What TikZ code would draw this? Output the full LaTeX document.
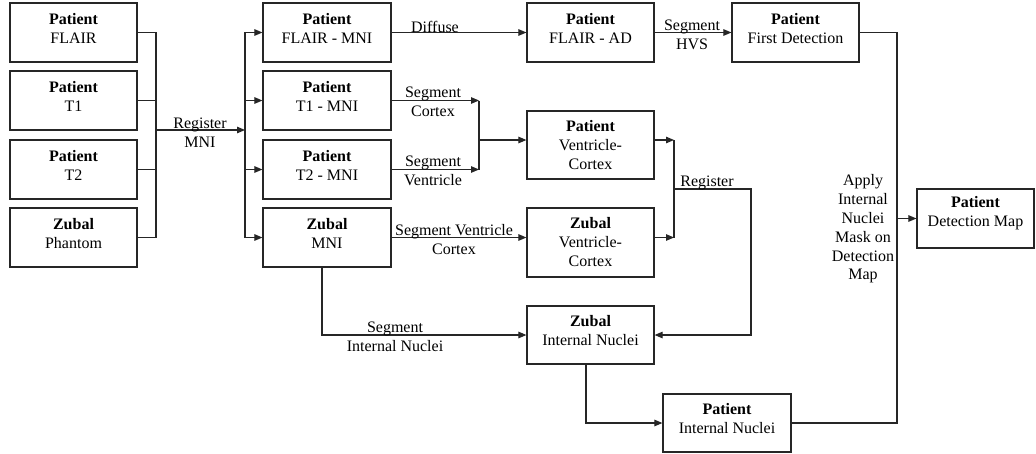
\documentclass[tikz,border=0pt]{standalone}
\usepackage{fontspec}
\setmainfont{Liberation Serif}
\usetikzlibrary{arrows.meta}
\begin{document}
\begin{tikzpicture}[x=1pt,y=-1pt,
  box/.style={draw=black!85, line width=1.2pt, minimum width=127pt, minimum height=59pt, inner sep=0pt},
  txt/.style={align=center, font=\fontsize{16}{19}\selectfont, inner sep=0pt},
  two/.style={txt, yshift=4pt},
  conn/.style={line width=1.1pt, draw=black!85},
  arr/.style={conn, -{Triangle[length=8pt,width=6.5pt]}}]
\fill[white] (0,0) rectangle (1036,453);
\useasboundingbox (0,0) rectangle (1036,453);
% left column
\node[box, label={[two]center:{\textbf{Patient}\\FLAIR}}] (pflair) at (73.5,32.5) {};
\node[box, label={[two]center:{\textbf{Patient}\\T1}}] (pt1) at (73.5,100.5) {};
\node[box, label={[two]center:{\textbf{Patient}\\T2}}] (pt2) at (73.5,169.5) {};
\node[box, label={[two]center:{\textbf{Zubal}\\Phantom}}] (zph) at (73.5,237.5) {};
% MNI column
\node[box, minimum width=128pt, label={[two]center:{\textbf{Patient}\\FLAIR - MNI}}] (pflm) at (327,32.5) {};
\node[box, minimum width=128pt, label={[two]center:{\textbf{Patient}\\T1 - MNI}}] (pt1m) at (327,100.5) {};
\node[box, minimum width=128pt, label={[two]center:{\textbf{Patient}\\T2 - MNI}}] (pt2m) at (327,169.5) {};
\node[box, minimum width=128pt, label={[two]center:{\textbf{Zubal}\\MNI}}] (zmni) at (327,237.5) {};
% third column
\node[box, label={[two]center:{\textbf{Patient}\\FLAIR - AD}}] (pfad) at (590.5,32.5) {};
\node[box, minimum height=68pt, label={[txt]center:{\textbf{Patient}\\Ventricle-\\Cortex}}] (pvc) at (590.5,145) {};
\node[box, minimum height=69pt, label={[txt]center:{\textbf{Zubal}\\Ventricle-\\Cortex}}] (zvc) at (590.5,242.5) {};
\node[box, minimum height=58pt, label={[two]center:{\textbf{Zubal}\\Internal Nuclei}}] (zin) at (590.5,335) {};
% right part
\node[box, label={[two]center:{\textbf{Patient}\\First Detection}}] (pfd) at (795.5,32.5) {};
\node[box, minimum width=128pt, minimum height=58pt, label={[two]center:{\textbf{Patient}\\Internal Nuclei}}] (pin) at (727,423) {};
\node[box, minimum width=117pt, label={[txt,yshift=5pt]center:{\textbf{Patient}\\Detection Map}}] (pdm) at (975.5,218.5) {};
% junction coordinates
\coordinate (j0) at (156,130);
\coordinate (jb) at (245,130);
\coordinate (j1) at (479,140);
\coordinate (j2) at (674,189);
\coordinate (rg) at (751,189);
\coordinate (j3) at (897,218.5);
% register MNI bus
\draw[conn] (pflair.east) -| (j0);
\draw[conn] (pt1.east) -| (j0);
\draw[conn] (pt2.east) -| (j0);
\draw[conn] (zph.east) -| (j0);
\draw[arr] (j0) -- (jb);
\draw[arr] (jb) |- (pflm.west);
\draw[arr] (jb) |- (pt1m.west);
\draw[arr] (jb) |- (pt2m.west);
\draw[arr] (jb) |- (zmni.west);
\node[txt] (lreg) at (200,133) {Register\\MNI};
% diffuse, segment HVS
\draw[arr] (pflm.east) -- (pfad.west);
\node[txt] (ldif) at (435,27) {Diffuse};
\draw[arr] (pfad.east) -- (pfd.west);
\node[txt] (lhvs) at (692,34.5) {Segment\\HVS};
% segment cortex / ventricle
\draw[arr] (pt1m.east) -- (pt1m.east -| j1);
\draw[arr] (pt2m.east) -- (pt2m.east -| j1);
\draw[conn] (pt1m.east -| j1) -- (pt2m.east -| j1);
\draw[arr] (j1) -- (j1 -| pvc.west);
\node[txt] (lsc) at (433,102) {Segment\\Cortex};
\node[txt] (lsv) at (433,171) {Segment\\Ventricle};
% zubal segment ventricle cortex
\draw[arr] (zmni.east) -- (zmni.east -| zvc.west);
\node[txt] (lsvc) at (454,240) {Segment Ventricle\\Cortex};
% register
\draw[arr] (j1 -| pvc.east) -- (j1 -| j2);
\draw[arr] (zmni.east -| zvc.east) -- (zmni.east -| j2);
\draw[conn] (j1 -| j2) -- (zmni.east -| j2);
\draw[arr] (j2) -- (rg) |- (zin.east);
\node[txt] (lrg) at (707,183) {Register};
% internal nuclei
\draw[arr] ([xshift=-5pt]zmni.south) |- (zin.west);
\node[txt] (lsin) at (395,337) {Segment\\Internal Nuclei};
\draw[arr] ([xshift=-4.5pt]zin.south) |- (pin.west);
% detection map
\draw[conn] (pfd.east) -| (j3);
\draw[conn] (pin.east) -| (j3);
\draw[arr] (j3) -- (pdm.west);
\node[txt, font=\fontsize{16}{18.8}\selectfont] (lapp) at (863,229) {Apply\\Internal\\Nuclei\\Mask on\\Detection\\Map};
\end{tikzpicture}
\end{document}
